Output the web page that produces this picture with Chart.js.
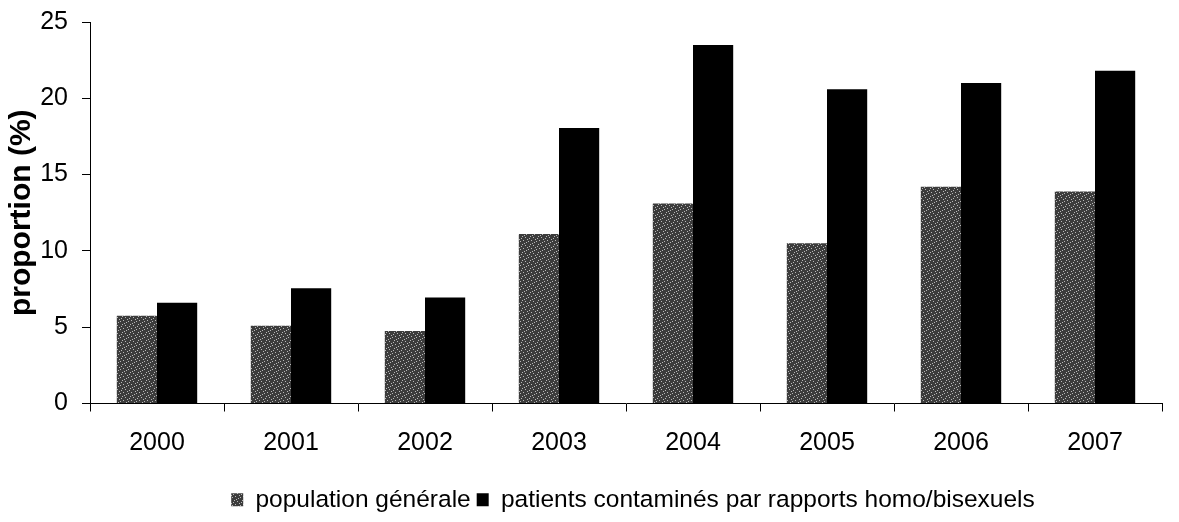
<!DOCTYPE html>
<html>
<head>
<meta charset="utf-8">
<script src="https://cdn.jsdelivr.net/npm/chart.js@4/dist/chart.umd.min.js"></script>
<style>
  html, body { margin: 0; padding: 0; background: #fff; }
  #wrap { width: 1179px; height: 522px; }
</style>
</head>
<body>
<div id="wrap"><canvas id="c" width="1179" height="522"></canvas></div>
<script>
// data
const years = ['2000', '2001', '2002', '2003', '2004', '2005', '2006', '2007']
const generale = [5.75, 5.1, 4.75, 11.1, 13.1, 10.5, 14.2, 13.9]
const homoBi = [6.6, 7.55, 6.95, 18.05, 23.5, 20.6, 21.0, 21.8]
const seriesNames = ['population générale', 'patients contaminés par rapports homo/bisexuels']

// stippled grey fill, like the scanned original
function stipple() {
  const p = document.createElement('canvas')
  p.width = 8
  p.height = 8
  const g = p.getContext('2d')
  g.fillStyle = '#3c3c3c'
  g.fillRect(0, 0, 8, 8)
  g.fillStyle = '#b8b8b8'
  const dots = [[0, 1], [3, 0], [6, 2], [2, 4], [5, 5], [7, 7], [1, 6], [4, 3]]
  dots.forEach(d => g.fillRect(d[0], d[1], 1, 1))
  return g.createPattern(p, 'repeat')
}

const font = "'Liberation Sans', Arial, sans-serif"

// the original legend sits a bit right of the plot centre
const shiftLegend = {
  id: 'shiftLegend',
  afterLayout(chart) {
    const lg = chart.legend
    if (!lg) return
    lg.left += 52
    lg.right += 52
  }
}

new Chart(document.getElementById('c'), {
  type: 'bar',
  data: {
    labels: years,
    datasets: [
      { label: seriesNames[0], data: generale, backgroundColor: stipple(), borderWidth: 0 },
      { label: seriesNames[1], data: homoBi, backgroundColor: '#000', borderWidth: 0 }
    ]
  },
  options: {
    responsive: false,
    animation: false,
    layout: { padding: { left: 0, right: 17, top: 22, bottom: 0 } },
    datasets: { bar: { barPercentage: 1, categoryPercentage: 0.6 } },
    scales: {
      x: {
        grid: { drawOnChartArea: false, color: '#000', tickLength: 8, offset: true },
        border: { color: '#000', width: 1 },
        ticks: { color: '#000', font: { family: font, size: 25 }, padding: 17 },
        afterFit: s => { s.height = 78 }
      },
      y: {
        min: 0,
        max: 25,
        ticks: { stepSize: 5, color: '#000', font: { family: font, size: 25 }, padding: 14 },
        grid: { drawOnChartArea: false, color: '#000', tickLength: 8 },
        border: { color: '#000', width: 1 },
        title: {
          display: true,
          text: 'proportion (%)',
          color: '#000',
          font: { family: font, size: 30, weight: 'bold' },
          padding: { top: 4, bottom: 0 }
        },
        afterFit: s => {
          s.width = 90
          s.paddingTop = 0
        }
      }
    },
    plugins: {
      legend: {
        position: 'bottom',
        labels: {
          color: '#000',
          font: { family: font, size: 24.5 },
          boxWidth: 12,
          boxHeight: 13,
          padding: 6
        }
      },
      tooltip: { enabled: false }
    }
  },
  plugins: [shiftLegend]
})
</script>
</body>
</html>
